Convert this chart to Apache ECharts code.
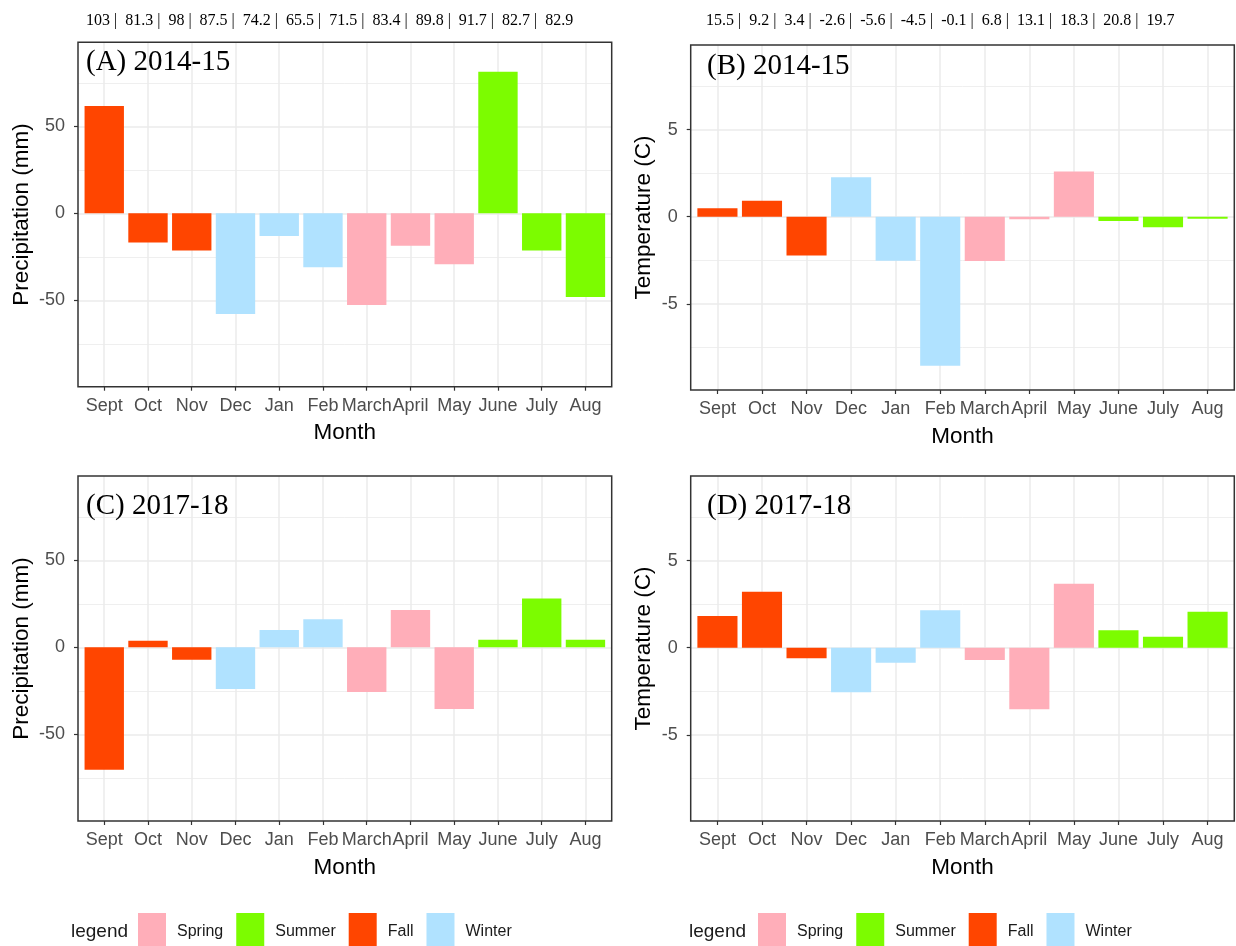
<!DOCTYPE html>
<html>
<head>
<meta charset="utf-8">
<script src="https://cdn.jsdelivr.net/npm/echarts@6/dist/echarts.min.js"></script>
<style>
  html, body { margin: 0; padding: 0; background: #ffffff; }
  #chart { width: 1236px; height: 946px; }
</style>
</head>
<body>
<div id="chart"></div>
<script>
// Months of the water year and the season each belongs to
const months = ['Sept', 'Oct', 'Nov', 'Dec', 'Jan', 'Feb', 'March', 'April', 'May', 'June', 'July', 'Aug'];
const monthSeason = ['Fall', 'Fall', 'Fall', 'Winter', 'Winter', 'Winter', 'Spring', 'Spring', 'Spring', 'Summer', 'Summer', 'Summer'];
const seasons = ['Spring', 'Summer', 'Fall', 'Winter'];
const seasonColors = ['#FFAEB9', '#7CFC00', '#FF4500', '#B0E2FF'];

// Monthly departures from normal
const precip1415 = [61.7, -16.7, -21.3, -57.9, -13.0, -31.0, -52.7, -18.6, -29.3, 81.4, -21.3, -48.1];
const temp1415 = [0.48, 0.92, -2.22, 2.26, -2.52, -8.55, -2.54, -0.15, 2.6, -0.25, -0.61, -0.12];
const precip1718 = [-70.3, 3.85, -7.1, -23.9, 10.0, 16.1, -25.6, 21.5, -35.4, 4.4, 28.0, 4.4];
const temp1718 = [1.82, 3.21, -0.61, -2.56, -0.86, 2.15, -0.71, -3.53, 3.67, 1.0, 0.63, 2.07];

// Monthly normals printed above the top panels
const precipNormals = ['103', '81.3', '98', '87.5', '74.2', '65.5', '71.5', '83.4', '89.8', '91.7', '82.7', '82.9'];
const tempNormals = ['15.5', '9.2', '3.4', '-2.6', '-5.6', '-4.5', '-0.1', '6.8', '13.1', '18.3', '20.8', '19.7'];

// Axis breaks
const precipTicks = [-50, 0, 50];
const precipMinor = [-75, -25, 25, 75];
const tempTicks = [-5, 0, 5];
const tempMinor = [-7.5, -2.5, 2.5, 7.5];

const SANS = '"Liberation Sans", Arial, sans-serif';
const SERIF = '"Liberation Serif", "Times New Roman", serif';
const monthIdx = months.map((_, i) => i);

const panels = [
  { label: '(A) 2014-15', values: precip1415, yName: 'Precipitation (mm)', ticks: precipTicks, minor: precipMinor,
    min: -99.7, max: 98.4, rect: [78, 42.3, 533.7, 344.4], labelPos: [86, 62], nameGap: 45 },
  { label: '(B) 2014-15', values: temp1415, yName: 'Temperature (C)', ticks: tempTicks, minor: tempMinor,
    min: -9.94, max: 9.85, rect: [690.7, 45, 543.6, 345], labelPos: [707, 66.5], nameGap: 35 },
  { label: '(C) 2017-18', values: precip1718, yName: 'Precipitation (mm)', ticks: precipTicks, minor: precipMinor,
    min: -99.7, max: 98.4, rect: [78, 476, 533.7, 345], labelPos: [86, 506.5], nameGap: 45 },
  { label: '(D) 2017-18', values: temp1718, yName: 'Temperature (C)', ticks: tempTicks, minor: tempMinor,
    min: -9.94, max: 9.85, rect: [690.7, 476, 543.6, 345], labelPos: [707, 506.5], nameGap: 35 }
];

const grids = [], xAxes = [], yAxes = [], series = [], graphics = [];

panels.forEach((p, k) => {
  const [gl, gt, gw, gh] = p.rect;
  grids.push({ left: gl, top: gt, width: gw, height: gh, containLabel: false, outerBoundsMode: 'none' });

  xAxes.push({
    type: 'value', gridIndex: k, min: -0.6, max: 11.6, position: 'bottom',
    name: 'Month', nameLocation: 'middle', nameGap: 35,
    nameTextStyle: { fontFamily: SANS, fontSize: 22.5, color: '#000' },
    axisLine: { show: false, onZero: false },
    axisTick: { show: true, length: 4, lineStyle: { color: '#333', width: 1.2 }, customValues: monthIdx },
    axisLabel: { customValues: monthIdx, formatter: v => months[Math.round(v)], color: '#4D4D4D',
                 fontFamily: SANS, fontSize: 18, margin: 10, hideOverlap: false },
    splitLine: { show: true, lineStyle: { color: '#EBEBEB', width: 1.5 } }
  });

  // major breaks with labels
  yAxes.push({
    type: 'value', gridIndex: k, min: p.min, max: p.max, position: 'left',
    name: p.yName, nameLocation: 'middle', nameGap: p.nameGap,
    nameTextStyle: { fontFamily: SANS, fontSize: 22.5, color: '#000' },
    axisLine: { show: false, onZero: false },
    axisTick: { show: true, length: 4, lineStyle: { color: '#333', width: 1.2 }, customValues: p.ticks },
    axisLabel: { customValues: p.ticks, color: '#4D4D4D', fontFamily: SANS, fontSize: 18, margin: 13 },
    splitLine: { show: true, lineStyle: { color: '#EBEBEB', width: 1.5 } }
  });
  // minor grid lines
  yAxes.push({
    type: 'value', gridIndex: k, min: p.min, max: p.max, position: 'left',
    axisLine: { show: false, onZero: false },
    axisTick: { show: false, customValues: p.minor },
    axisLabel: { show: false, customValues: p.minor },
    splitLine: { show: true, lineStyle: { color: '#EFEFEF', width: 1 } }
  });

  const barW = gw * 0.9 / 12.2;
  seasons.forEach((s, si) => {
    series.push({
      type: 'bar', name: s, xAxisIndex: k, yAxisIndex: 2 * k,
      barWidth: barW, barGap: '-100%',
      itemStyle: { color: seasonColors[si] },
      emphasis: { disabled: true },
      data: p.values.map((v, i) => monthSeason[i] === s ? [i, v] : null).filter(d => d !== null)
    });
  });

  // panel border
  graphics.push({
    type: 'rect', z: 100, silent: true,
    shape: { x: gl, y: gt, width: gw, height: gh },
    style: { fill: null, stroke: '#333', lineWidth: 1.5 }
  });
  // panel tag
  graphics.push({
    type: 'text', z: 100, x: p.labelPos[0], y: p.labelPos[1],
    style: { text: p.label, font: '29px ' + SERIF, fill: '#000', align: 'left', verticalAlign: 'middle' }
  });
});

// rows of monthly normals
graphics.push({
  type: 'text', x: 86, y: 21,
  style: { text: precipNormals.join(' |  '), font: '16px ' + SERIF, fill: '#000', align: 'left', verticalAlign: 'middle' }
});
graphics.push({
  type: 'text', x: 706, y: 21,
  style: { text: tempNormals.join(' |  '), font: '16px ' + SERIF, fill: '#000', align: 'left', verticalAlign: 'middle' }
});

// legend titles
[[71, 'legend'], [689, 'legend']].forEach(([x, t]) => {
  graphics.push({
    type: 'text', x: x, y: 932,
    style: { text: t, font: '19px ' + SANS, fill: '#1a1a1a', align: 'left', verticalAlign: 'middle' }
  });
});

const legendBase = {
  top: 913, padding: 0, itemWidth: 28, itemHeight: 38, itemGap: 13, selectedMode: false,
  data: seasons.map(s => ({ name: s, icon: 'rect' })),
  textStyle: { fontFamily: SANS, fontSize: 16, color: '#1a1a1a', padding: [0, 0, 0, 6] }
};

const chart = echarts.init(document.getElementById('chart'), null, { renderer: 'canvas' });
chart.setOption({
  animation: false,
  backgroundColor: '#ffffff',
  grid: grids,
  xAxis: xAxes,
  yAxis: yAxes,
  series: series,
  legend: [Object.assign({ left: 138 }, legendBase), Object.assign({ left: 758 }, legendBase)],
  graphic: graphics
});
</script>
</body>
</html>
